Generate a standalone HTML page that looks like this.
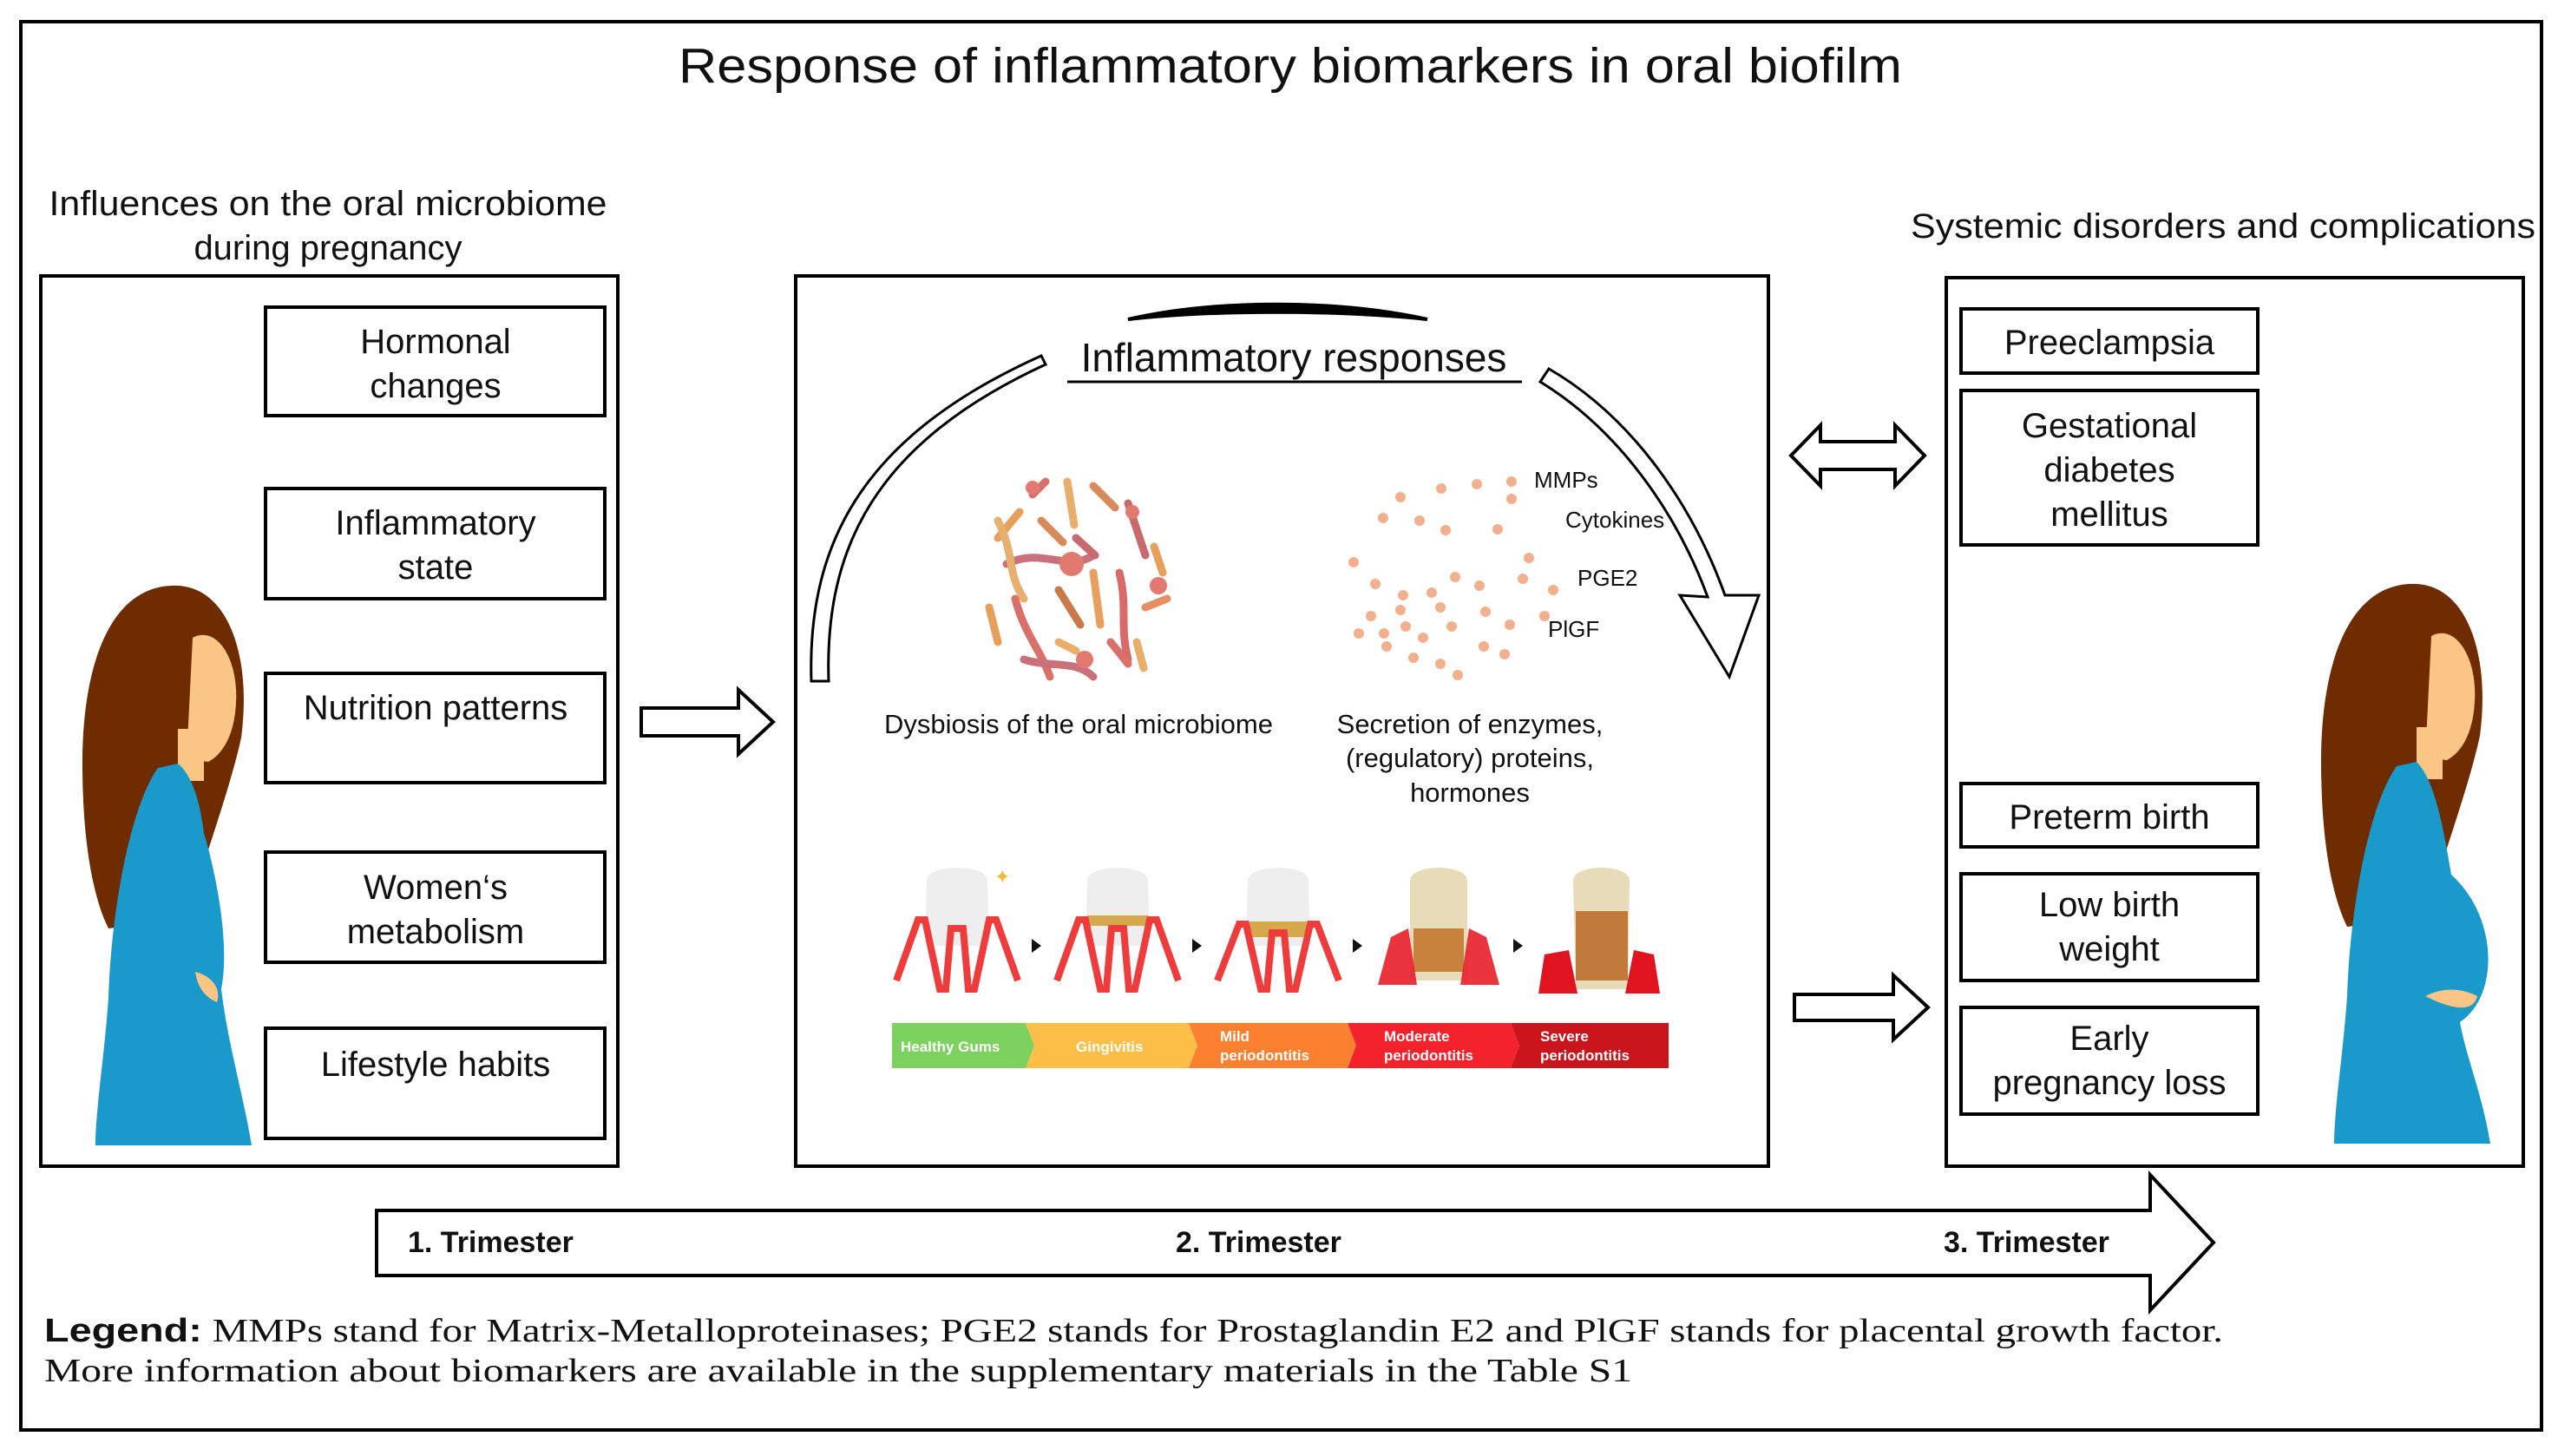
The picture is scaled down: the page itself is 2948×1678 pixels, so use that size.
<!DOCTYPE html>
<html><head><meta charset="utf-8"><style>
html,body{margin:0;padding:0;background:#fff;}
svg{display:block;}
text{font-family:"Liberation Sans",sans-serif;fill:#111;}
.serif{font-family:"Liberation Serif",serif;}
</style></head><body>
<svg width="2948" height="1678" viewBox="0 0 2948 1678" xmlns="http://www.w3.org/2000/svg">
<rect x="0" y="0" width="2948" height="1678" fill="#fff"/>
<rect x="24" y="25" width="2905" height="1623" fill="none" stroke="#000" stroke-width="4"/>
<text x="1487" y="95" font-size="57" text-anchor="middle" textLength="1410" lengthAdjust="spacingAndGlyphs">Response of inflammatory biomarkers in oral biofilm</text>

<!-- left -->
<text x="378" y="248" font-size="40" text-anchor="middle" textLength="643" lengthAdjust="spacingAndGlyphs">Influences on the oral microbiome</text>
<text x="378" y="299" font-size="40" text-anchor="middle">during pregnancy</text>
<rect x="47" y="318" width="665" height="1026" fill="none" stroke="#000" stroke-width="4"/>
<g fill="none" stroke="#000" stroke-width="4">
<rect x="306" y="354" width="391" height="125"/>
<rect x="306" y="563" width="391" height="127"/>
<rect x="306" y="776" width="391" height="126"/>
<rect x="306" y="982" width="391" height="127"/>
<rect x="306" y="1185" width="391" height="127"/>
</g>
<g font-size="40" text-anchor="middle">
<text x="502" y="407">Hormonal</text><text x="502" y="458">changes</text>
<text x="502" y="616">Inflammatory</text><text x="502" y="667">state</text>
<text x="502" y="829">Nutrition patterns</text>
<text x="502" y="1036">Women‘s</text><text x="502" y="1087">metabolism</text>
<text x="502" y="1240">Lifestyle habits</text>
</g>

<!-- woman left -->
<g id="w1">
<path d="M205 675 C130 672 95 760 95 880 C95 960 105 1030 125 1070 L215 1060 C235 990 265 910 278 850 C290 760 265 678 205 675 Z" fill="#6e2c00"/>
<path d="M222 735 C250 720 275 760 272 810 C270 850 255 870 240 878 L215 875 Z" fill="#fbc585"/>
<rect x="205" y="840" width="30" height="60" fill="#fbc585"/>
<path d="M182 885 C150 930 128 1050 125 1150 C120 1220 110 1280 110 1320 L290 1320 C280 1260 262 1200 255 1140 C265 1090 250 1010 235 960 C230 920 220 892 205 880 Z" fill="#1a9acb"/>
<path d="M225 1120 C245 1125 255 1140 250 1155 C238 1150 228 1140 225 1120 Z" fill="#fbc585"/>
</g>

<!-- arrow left -> middle -->
<path d="M739 816 L851 816 L851 795 L891 832 L851 869 L851 848 L739 848 Z" fill="#fff" stroke="#000" stroke-width="4"/>

<!-- middle box -->
<rect x="917" y="318" width="1121" height="1026" fill="none" stroke="#000" stroke-width="4"/>
<text x="1491" y="428" font-size="46" text-anchor="middle">Inflammatory responses</text>
<line x1="1230" y1="440" x2="1754" y2="440" stroke="#000" stroke-width="3"/>
<!-- arcs -->
<path d="M935 785 C930 620 1000 500 1200 410 L1205 420 C1010 510 950 630 955 785 Z" fill="#fff" stroke="#000" stroke-width="3"/>
<path d="M1300 368 C1400 345 1540 345 1645 368 C1540 357 1400 357 1300 368 Z" fill="#000" stroke="#000" stroke-width="4"/>
<path d="M1785 425 C1880 480 1950 580 1988 686 L2027 686 L1993 780 L1936 686 L1968 688 C1932 590 1865 495 1775 440 Z" fill="#fff" stroke="#000" stroke-width="3"/>

<!-- bacteria -->
<g stroke-linecap="round" stroke-width="9" fill="none">
<path d="M1150 620 L1175 590" stroke="#e6a05a"/><path d="M1190 570 L1205 555" stroke="#d9706a"/>
<path d="M1230 555 L1238 605" stroke="#e8ae6a"/><path d="M1260 560 L1285 585" stroke="#d98a5a"/>
<path d="M1300 580 L1320 640" stroke="#c96a6e"/><path d="M1160 650 C1200 630 1230 660 1260 640" stroke="#c9707a"/>
<path d="M1140 700 L1150 740" stroke="#e6a05a"/><path d="M1170 690 C1180 730 1200 750 1210 780" stroke="#d9706a"/>
<path d="M1220 680 L1245 720" stroke="#c97a4a"/><path d="M1260 660 L1268 720" stroke="#e8a060"/>
<path d="M1290 660 C1300 700 1290 720 1300 760" stroke="#d96a6a"/><path d="M1320 700 L1345 690" stroke="#e69060"/>
<path d="M1180 760 C1210 770 1240 760 1260 780" stroke="#c9707a"/><path d="M1220 740 L1240 750" stroke="#e8ae6a"/>
<path d="M1280 740 L1300 765" stroke="#d9706a"/><path d="M1150 600 C1170 640 1160 660 1180 690" stroke="#e8b070"/>
<path d="M1200 600 L1225 625" stroke="#d98a5a"/><path d="M1330 630 L1340 660" stroke="#e6a05a"/>
<path d="M1240 620 L1262 640" stroke="#c96a6e"/><path d="M1310 740 L1318 770" stroke="#e8ae6a"/>
</g>
<g fill="#e37a70">
<circle cx="1235" cy="650" r="14"/><circle cx="1335" cy="675" r="10"/><circle cx="1250" cy="760" r="10"/><circle cx="1190" cy="562" r="8"/><circle cx="1305" cy="590" r="8"/>
</g>
<!-- dots -->
<g fill="#f3b08e">
<circle cx="1614" cy="573" r="6"/><circle cx="1661" cy="563" r="6"/><circle cx="1636" cy="600" r="6"/><circle cx="1702" cy="558" r="6"/><circle cx="1742" cy="555" r="6"/><circle cx="1742" cy="575" r="6"/>
<circle cx="1594" cy="597" r="6"/><circle cx="1666" cy="611" r="6"/><circle cx="1726" cy="610" r="6"/><circle cx="1762" cy="643" r="6"/><circle cx="1755" cy="667" r="6"/>
<circle cx="1560" cy="648" r="6"/><circle cx="1585" cy="673" r="6"/><circle cx="1617" cy="686" r="6"/><circle cx="1650" cy="683" r="6"/><circle cx="1677" cy="665" r="6"/><circle cx="1705" cy="675" r="6"/>
<circle cx="1580" cy="710" r="6"/><circle cx="1614" cy="703" r="6"/><circle cx="1660" cy="700" r="6"/><circle cx="1712" cy="705" r="6"/><circle cx="1790" cy="680" r="6"/><circle cx="1780" cy="710" r="6"/>
<circle cx="1566" cy="730" r="6"/><circle cx="1620" cy="722" r="6"/><circle cx="1640" cy="735" r="6"/><circle cx="1673" cy="722" r="6"/><circle cx="1740" cy="720" r="6"/><circle cx="1598" cy="745" r="6"/>
<circle cx="1629" cy="758" r="6"/><circle cx="1710" cy="745" r="6"/><circle cx="1595" cy="730" r="6"/><circle cx="1660" cy="765" r="6"/><circle cx="1680" cy="778" r="6"/><circle cx="1734" cy="754" r="6"/>
</g>
<g font-size="26">
<text x="1768" y="562">MMPs</text><text x="1804" y="608">Cytokines</text><text x="1818" y="675">PGE2</text><text x="1784" y="734">PlGF</text>
</g>
<g font-size="31" text-anchor="middle">
<text x="1243" y="845">Dysbiosis of the oral microbiome</text>
<text x="1694" y="845">Secretion of enzymes,</text>
<text x="1694" y="884">(regulatory) proteins,</text>
<text x="1694" y="924">hormones</text>
</g>

<!-- teeth -->
<g id="teeth">
<g transform="translate(1028,0)">
<path d="M40 1015 C40 995 110 995 110 1015 L112 1090 L38 1090 Z" fill="#eeeeee"/>
<path d="M5 1130 L30 1060 L38 1060 L55 1140 L62 1140 L68 1070 L82 1070 L88 1140 L95 1140 L112 1060 L120 1060 L145 1130" fill="none" stroke="#ee3b3b" stroke-width="8"/>
<text x="118" y="1018" font-size="22" style="fill:#f5b82e">✦</text>
</g>
<g transform="translate(1213,0)">
<path d="M40 1015 C40 995 110 995 110 1015 L112 1090 L38 1090 Z" fill="#eeeeee"/>
<rect x="40" y="1055" width="70" height="12" fill="#d4a84b"/>
<path d="M5 1130 L30 1060 L38 1060 L55 1140 L62 1140 L68 1070 L82 1070 L88 1140 L95 1140 L112 1060 L120 1060 L145 1130" fill="none" stroke="#ee3b3b" stroke-width="8"/>
</g>
<g transform="translate(1398,0)">
<path d="M40 1015 C40 995 110 995 110 1015 L112 1090 L38 1090 Z" fill="#eeeeee"/>
<rect x="42" y="1062" width="66" height="18" fill="#d4a84b"/>
<path d="M5 1130 L30 1065 L38 1065 L55 1140 L62 1140 L68 1075 L82 1075 L88 1140 L95 1140 L112 1065 L120 1065 L145 1130" fill="none" stroke="#ee3b3b" stroke-width="8"/>
</g>
<g transform="translate(1583,0)">
<path d="M42 1015 C42 995 108 995 108 1015 L108 1130 L42 1130 Z" fill="#e8dcb8"/>
<rect x="46" y="1070" width="58" height="50" fill="#c8823e"/>
<path d="M5 1135 L20 1080 L40 1070 L50 1135 L100 1135 L110 1070 L130 1080 L145 1135 Z" fill="#e81f2a" opacity="0.9"/>
</g>
<g transform="translate(1768,0)">
<path d="M45 1015 C45 995 110 995 110 1015 L108 1140 L48 1140 Z" fill="#e8dcb8"/>
<rect x="48" y="1050" width="60" height="80" fill="#c27a3a"/>
<path d="M5 1145 L12 1100 L40 1095 L50 1145 L105 1145 L115 1095 L138 1100 L145 1145 Z" fill="#e0141e"/>
</g>
<g fill="#111"><path d="M1189 1082 L1200 1090 L1189 1098 Z"/><path d="M1374 1082 L1385 1090 L1374 1098 Z"/><path d="M1559 1082 L1570 1090 L1559 1098 Z"/><path d="M1744 1082 L1755 1090 L1744 1098 Z"/></g>
</g>
<!-- color bar -->
<path d="M1028 1179 L1182 1179 L1192 1205 L1182 1231 L1028 1231 Z" fill="#7dd15e"/>
<path d="M1182 1179 L1370 1179 L1380 1205 L1370 1231 L1182 1231 L1192 1205 Z" fill="#fdbf47"/>
<path d="M1370 1179 L1553 1179 L1563 1205 L1553 1231 L1370 1231 L1380 1205 Z" fill="#fb8130"/>
<path d="M1553 1179 L1741 1179 L1751 1205 L1741 1231 L1553 1231 L1563 1205 Z" fill="#f4222c"/>
<path d="M1741 1179 L1923 1179 L1923 1231 L1741 1231 L1751 1205 Z" fill="#c9151b"/>
<g font-size="17" font-weight="bold">
<text x="1038" y="1212" style="fill:#fff">Healthy Gums</text>
<text x="1240" y="1212" style="fill:#fff">Gingivitis</text>
<text x="1406" y="1200" style="fill:#fff">Mild</text><text x="1406" y="1222" style="fill:#fff">periodontitis</text>
<text x="1595" y="1200" style="fill:#fff">Moderate</text><text x="1595" y="1222" style="fill:#fff">periodontitis</text>
<text x="1775" y="1200" style="fill:#fff">Severe</text><text x="1775" y="1222" style="fill:#fff">periodontitis</text>
</g>

<!-- double arrow -->
<path d="M2064 525 L2098 490 L2098 509 L2184 509 L2184 490 L2218 525 L2184 560 L2184 541 L2098 541 L2098 560 Z" fill="#fff" stroke="#000" stroke-width="4"/>
<!-- right arrow -->
<path d="M2068 1146 L2182 1146 L2182 1124 L2222 1161 L2182 1198 L2182 1176 L2068 1176 Z" fill="#fff" stroke="#000" stroke-width="4"/>

<!-- right -->
<text x="2562" y="274" font-size="40" text-anchor="middle" textLength="720" lengthAdjust="spacingAndGlyphs">Systemic disorders and complications</text>
<rect x="2243" y="320" width="665" height="1024" fill="none" stroke="#000" stroke-width="4"/>
<g fill="none" stroke="#000" stroke-width="4">
<rect x="2260" y="356" width="342" height="74"/>
<rect x="2260" y="450" width="342" height="178"/>
<rect x="2260" y="903" width="342" height="73"/>
<rect x="2260" y="1007" width="342" height="123"/>
<rect x="2260" y="1161" width="342" height="123"/>
</g>
<g font-size="40" text-anchor="middle">
<text x="2431" y="408">Preeclampsia</text>
<text x="2431" y="504">Gestational</text><text x="2431" y="555">diabetes</text><text x="2431" y="606">mellitus</text>
<text x="2431" y="955">Preterm birth</text>
<text x="2431" y="1056">Low birth</text><text x="2431" y="1107">weight</text>
<text x="2431" y="1210">Early</text><text x="2431" y="1261">pregnancy loss</text>
</g>
<!-- woman right -->
<g transform="translate(2580,-2)">
<path d="M205 675 C130 672 95 760 95 880 C95 960 105 1030 125 1070 L215 1060 C235 990 265 910 278 850 C290 760 265 678 205 675 Z" fill="#6e2c00"/>
<path d="M222 735 C250 720 275 760 272 810 C270 850 255 870 240 878 L215 875 Z" fill="#fbc585"/>
<rect x="205" y="840" width="30" height="60" fill="#fbc585"/>
<path d="M182 885 C150 930 128 1050 125 1150 C120 1220 110 1280 110 1320 L290 1320 C280 1260 262 1220 255 1180 C300 1150 300 1060 245 1010 C235 950 225 900 205 880 Z" fill="#1a9acb"/>
<path d="M215 1150 C245 1165 270 1170 275 1150 C255 1140 235 1140 215 1150 Z" fill="#fbc585"/>
</g>

<!-- timeline -->
<path d="M434 1395 L2478 1395 L2478 1354 L2551 1432 L2478 1510 L2478 1470 L434 1470 Z" fill="#fff" stroke="#000" stroke-width="4"/>
<g font-size="34" font-weight="bold">
<text x="470" y="1443">1. Trimester</text>
<text x="1355" y="1443">2. Trimester</text>
<text x="2240" y="1443">3. Trimester</text>
</g>
<text x="51" y="1546" font-size="38" textLength="2511" lengthAdjust="spacingAndGlyphs"><tspan font-weight="bold">Legend:</tspan><tspan font-family="Liberation Serif, serif"> MMPs stand for Matrix-Metalloproteinases; PGE2 stands for Prostaglandin E2 and PlGF stands for placental growth factor.</tspan></text>
<text x="51" y="1592" font-size="38" class="serif" textLength="1830" lengthAdjust="spacingAndGlyphs">More information about biomarkers are available in the supplementary materials  in the Table S1</text>
</svg>
</body></html>
